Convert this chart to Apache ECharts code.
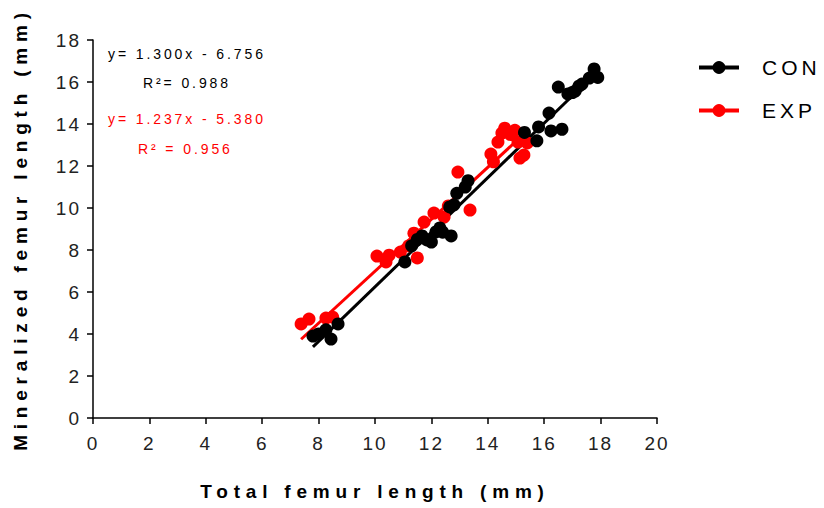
<!DOCTYPE html>
<html>
<head>
<meta charset="utf-8">
<script src="https://cdn.jsdelivr.net/npm/echarts@6/dist/echarts.min.js"></script>
<style>
  html, body { margin: 0; padding: 0; background: #fff; }
  #chart { width: 824px; height: 508px; }
  /* Prism-like letter spacing */
  #chart text { letter-spacing: 2px; }
  #chart text[style*="bold"] { letter-spacing: 5.8px; }
  #chart text[style*="14px"] { letter-spacing: 2.9px; }
  #chart text[style*="21px"] { letter-spacing: 4px; }
</style>
</head>
<body>
<div id="chart"></div>
<script>
// CON group (total length, mineralized length)
var conX = [7.8, 8.0, 8.26, 8.44, 8.69, 11.06, 11.3, 11.5, 11.67, 11.84, 12.0, 12.16, 12.3, 12.4, 12.7, 12.65, 12.8, 12.9, 13.2, 13.3,
            15.3, 15.74, 15.8, 16.17, 16.24, 16.63, 16.5, 16.84, 17.0, 17.1, 17.23, 17.34, 17.6, 17.77, 17.9];
var conY = [3.9, 4.0, 4.2, 3.76, 4.48, 7.43, 8.2, 8.5, 8.67, 8.48, 8.38, 8.86, 9.05, 8.85, 8.67, 10.05, 10.15, 10.7, 11.0, 11.3,
            13.6, 13.2, 13.86, 14.52, 13.67, 13.75, 15.76, 15.43, 15.5, 15.57, 15.8, 15.9, 16.19, 16.62, 16.22];
// EXP group
var expX = [7.38, 7.66, 8.26, 8.5, 10.07, 10.39, 10.5, 10.9, 11.2, 11.38, 11.5, 11.74, 12.09, 12.45, 12.6, 12.94, 13.37,
            14.11, 14.2, 14.36, 14.5, 14.6, 14.8, 14.96, 15.07, 15.14, 15.28, 15.4];
var expY = [4.48, 4.71, 4.76, 4.8, 7.71, 7.43, 7.75, 7.9, 8.2, 8.8, 7.62, 9.33, 9.76, 9.57, 10.1, 11.71, 9.9,
            12.57, 12.2, 13.14, 13.57, 13.8, 13.5, 13.7, 13.14, 12.38, 12.52, 13.1];

var groups = ["CON", "EXP"];
var colors = ["#000000", "#ff0000"];
var slopes = [1.300, 1.237];
var intercepts = [-6.756, -5.380];
var fitText = [["y= 1.300x - 6.756", "R²= 0.988"], ["y= 1.237x - 5.380", "R² = 0.956"]];

function pairs(xs, ys) {
  return xs.map(function (x, i) { return [x, ys[i]]; });
}
function fitLine(xs, k) {
  var lo = Math.min.apply(null, xs), hi = Math.max.apply(null, xs);
  return [[lo, slopes[k] * lo + intercepts[k]], [hi, slopes[k] * hi + intercepts[k]]];
}

var xsAll = [conX, expX], ysAll = [conY, expY];
var series = [];
groups.forEach(function (g, k) {
  series.push({
    name: g, type: "line", data: fitLine(xsAll[k], k),
    symbol: "circle", symbolSize: 13, showSymbol: false,
    lineStyle: { color: colors[k], width: 3 }, itemStyle: { color: colors[k] },
    silent: true, z: 2
  });
});
groups.forEach(function (g, k) {
  series.push({
    name: g, type: "scatter", data: pairs(xsAll[k], ysAll[k]),
    symbol: "circle", symbolSize: 13,
    itemStyle: { color: colors[k], opacity: 1 }, z: k === 0 ? 4 : 3
  });
});

var axisCommon = {
  axisLine: { show: true, onZero: false, lineStyle: { color: "#000", width: 1.5 } },
  axisTick: { show: true, length: 6, lineStyle: { color: "#000", width: 1.5 } },
  splitLine: { show: false },
  axisLabel: { color: "#222", fontSize: 19, fontFamily: "Liberation Sans, Arial" },
  nameLocation: "middle",
  nameTextStyle: { color: "#000", fontSize: 19, fontWeight: "bold", fontFamily: "Liberation Sans, Arial" }
};

var myChart = echarts.init(document.getElementById("chart"), null, { renderer: "svg" });
var option = {
  animation: false,
  backgroundColor: "#fff",
  grid: { left: 93, right: 167, top: 40, bottom: 90, containLabel: false, outerBoundsMode: "none" },
  xAxis: Object.assign({}, axisCommon, {
    type: "value", min: 0, max: 20, interval: 2,
    name: "Total femur length (mm)", nameGap: 64,
    axisLabel: Object.assign({}, axisCommon.axisLabel, { margin: 16 })
  }),
  yAxis: Object.assign({}, axisCommon, {
    type: "value", min: 0, max: 18, interval: 2,
    name: "Mineralized femur length (mm)", nameGap: 63, nameRotate: 90,
    axisLabel: Object.assign({}, axisCommon.axisLabel, { margin: 12 })
  }),
  legend: {
    data: groups, orient: "vertical", left: 697, top: 57, padding: 0,
    itemWidth: 40, itemHeight: 16, itemGap: 22,
    lineStyle: { width: 4 },
    textStyle: { color: "#000", fontSize: 21, fontFamily: "Liberation Sans, Arial", padding: [0, 0, 0, 18] }
  },
  graphic: [
    { type: "text", left: 108, top: 47, style: { text: fitText[0][0], fill: "#000", fontSize: 14, fontFamily: "Liberation Sans, Arial" } },
    { type: "text", left: 143, top: 76, style: { text: fitText[0][1], fill: "#000", fontSize: 14, fontFamily: "Liberation Sans, Arial" } },
    { type: "text", left: 108, top: 112, style: { text: fitText[1][0], fill: "#ff0000", fontSize: 14, fontFamily: "Liberation Sans, Arial" } },
    { type: "text", left: 138, top: 142, style: { text: fitText[1][1], fill: "#ff0000", fontSize: 14, fontFamily: "Liberation Sans, Arial" } }
  ],
  series: series
};
myChart.setOption(option);
</script>
</body>
</html>
